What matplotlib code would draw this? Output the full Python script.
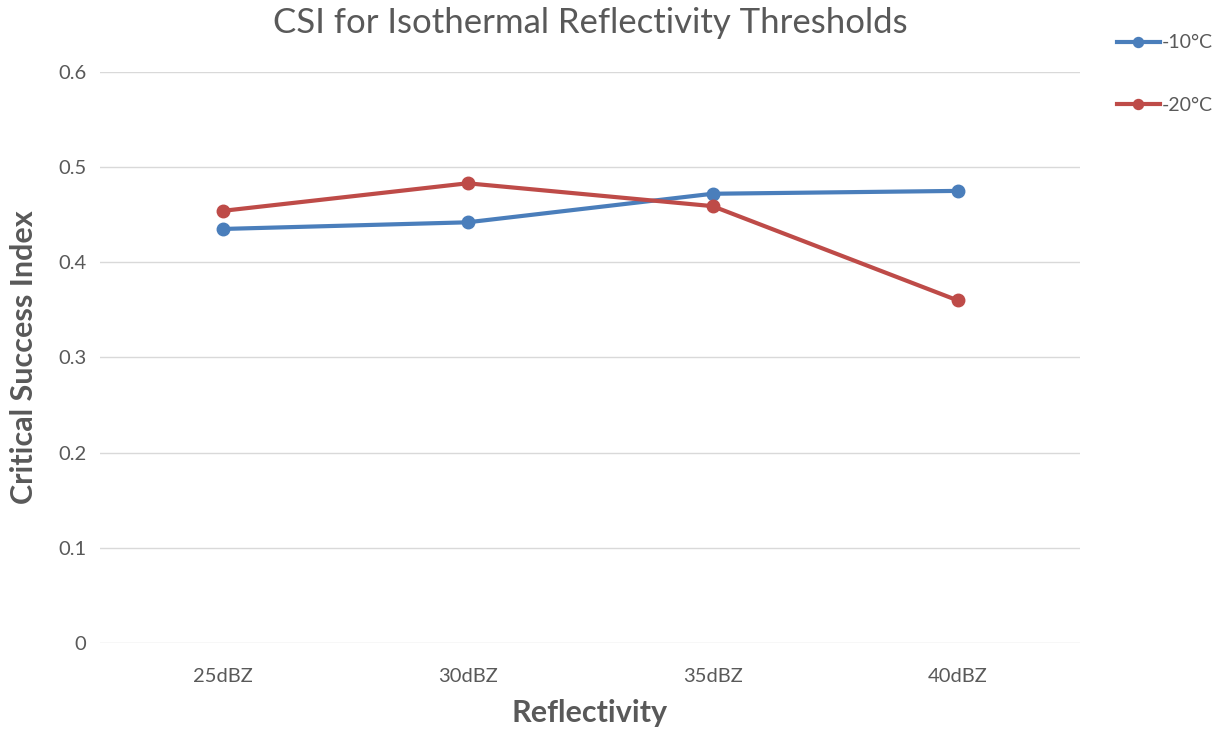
import matplotlib
matplotlib.use("Agg")
import matplotlib.pyplot as plt

categories = ["25dBZ", "30dBZ", "35dBZ", "40dBZ"]
minus10 = [0.435, 0.442, 0.472, 0.475]
minus20 = [0.454, 0.483, 0.459, 0.360]
yticks = [0, 0.1, 0.2, 0.3, 0.4, 0.5, 0.6]

plt.rcParams['font.family'] = ['Lato', 'DejaVu Sans']
grey = '#595959'

fig = plt.figure(figsize=(12.23, 7.34), dpi=100)
ax = fig.add_axes([0.0818, 0.124, 0.8013, 0.778])

x = list(range(len(categories)))
ax.plot(x, minus10, color='#4a7ebb', lw=3, marker='o', ms=9, label='-10°C', zorder=3)
ax.plot(x, minus20, color='#be4b48', lw=3, marker='o', ms=9, label='-20°C', zorder=3)

ax.set_xlim(-0.5, len(categories) - 0.5)
ax.set_ylim(0, 0.6)
ax.set_xticks(x)
ax.set_xticklabels(categories)
ax.set_yticks(yticks)
ax.set_yticklabels([f"{v:g}" for v in yticks])
ax.tick_params(axis='x', length=0, labelsize=14.5, labelcolor=grey, pad=18)
ax.tick_params(axis='y', length=0, labelsize=14.5, labelcolor=grey, pad=10)
ax.grid(axis='y', color='#d9d9d9', lw=1)
ax.set_axisbelow(True)
for s in ax.spines.values():
    s.set_visible(False)

ax.set_title('CSI for Isothermal Reflectivity Thresholds', fontsize=25, color=grey, pad=28)
ax.set_xlabel('Reflectivity', fontsize=22, fontweight='bold', color=grey, labelpad=10)
ax.set_ylabel('Critical Success Index', fontsize=22, fontweight='bold', color=grey, labelpad=14)

fig.legend(loc='upper left', bbox_to_anchor=(0.899, 0.977), frameon=False,
           fontsize=14, labelcolor=grey, labelspacing=2.35, handlelength=2.2,
           handletextpad=0.1, markerscale=0.8)

plt.savefig('out.png', dpi=100)
